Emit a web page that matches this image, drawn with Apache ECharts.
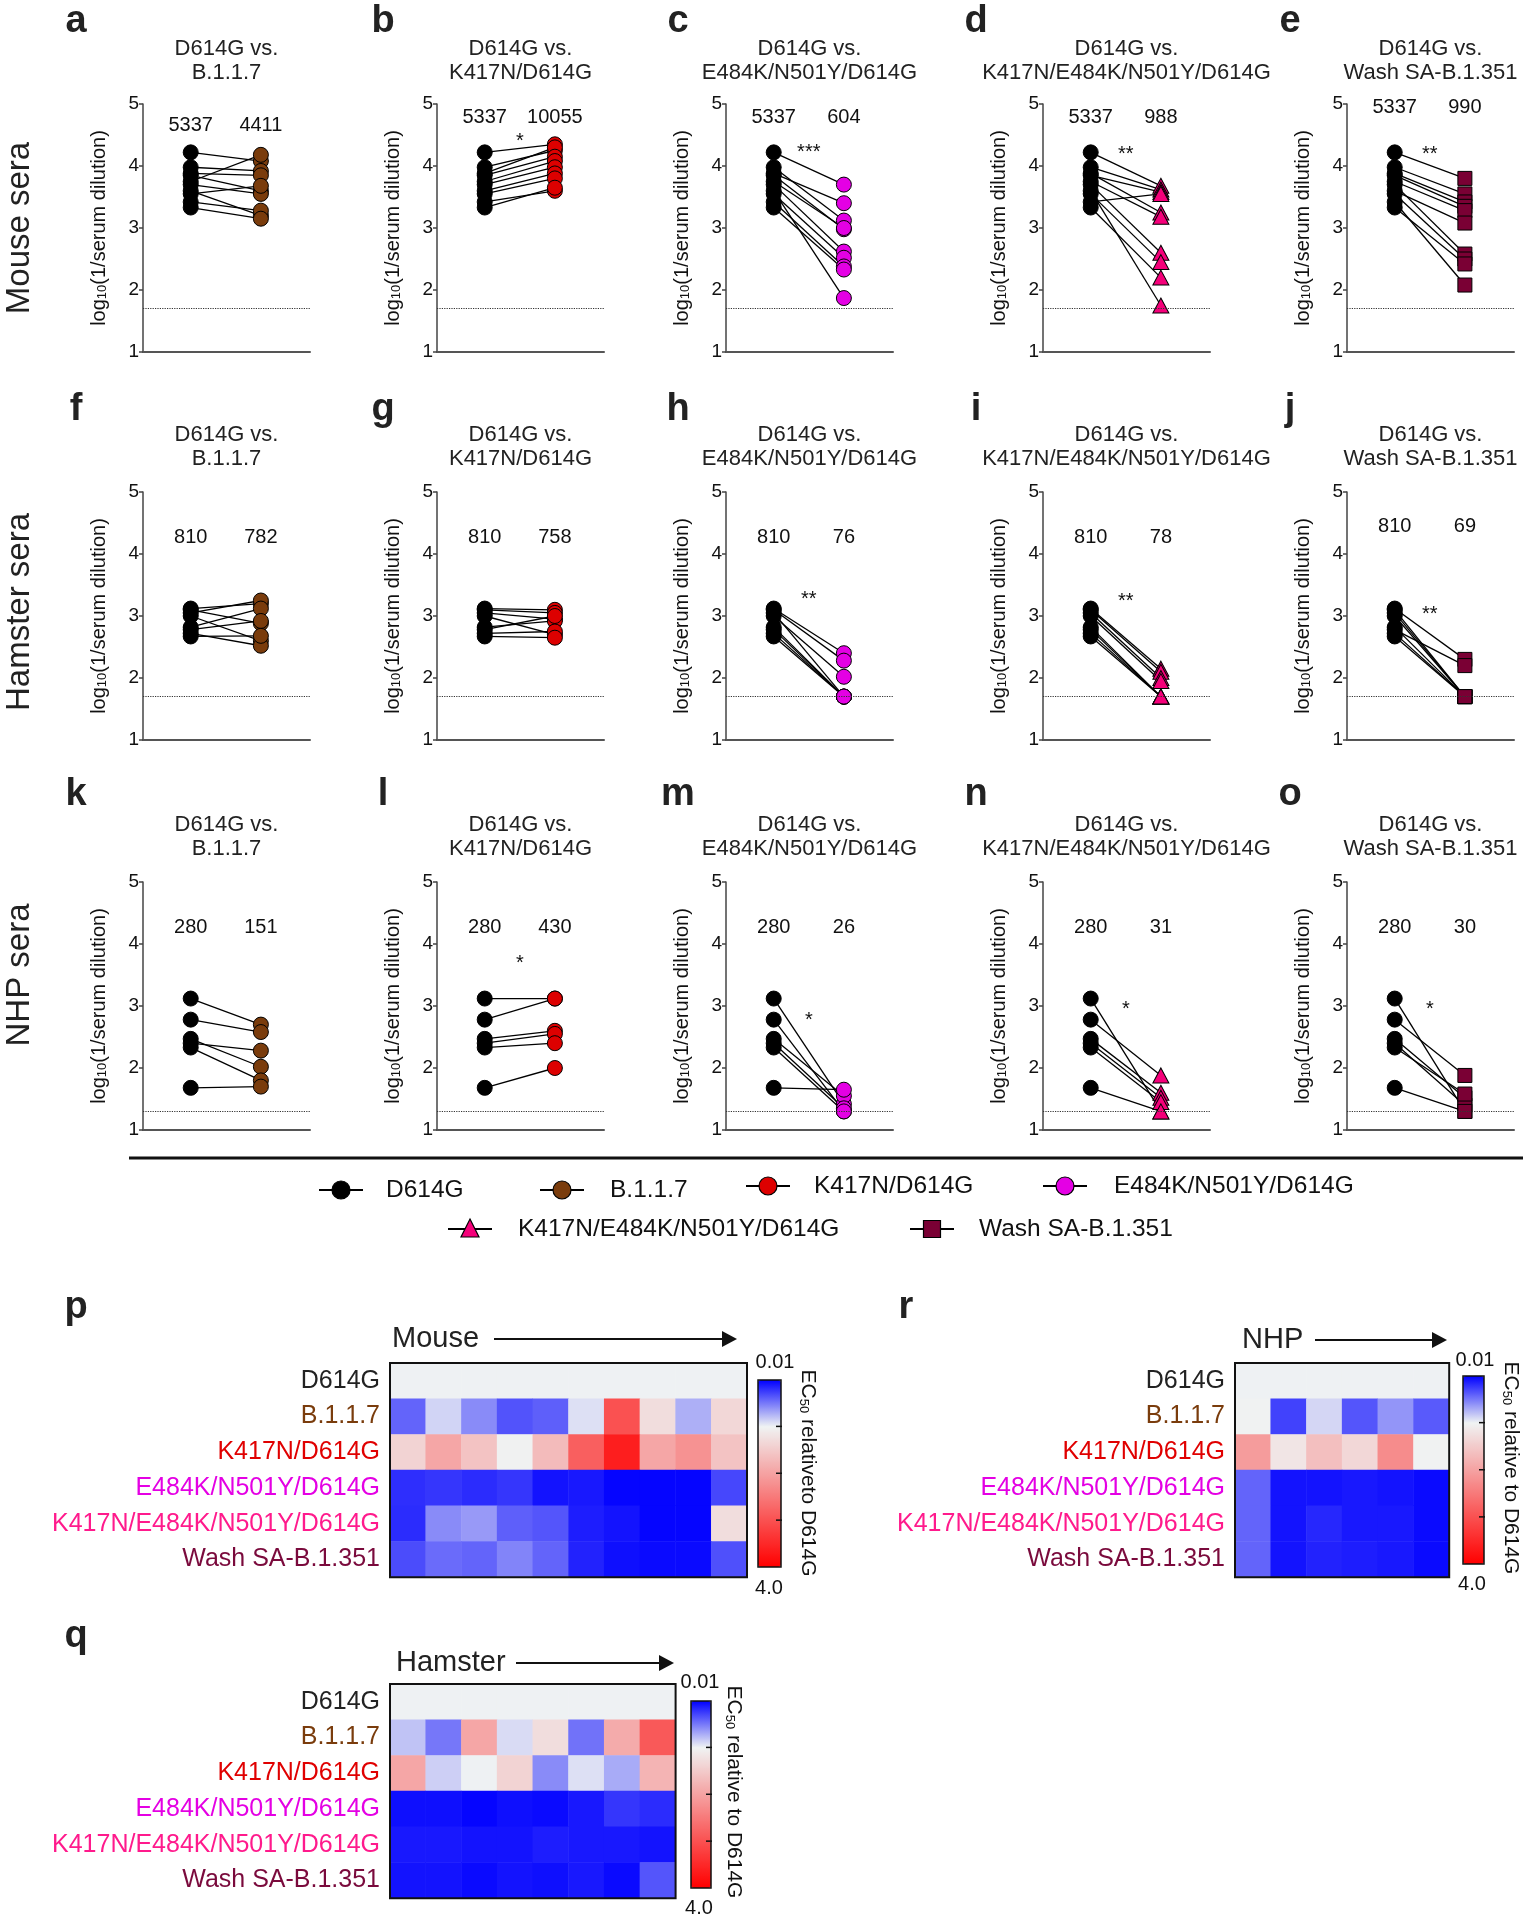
<!DOCTYPE html>
<html>
<head>
<meta charset="utf-8">
<title>Neutralization of SARS-CoV-2 variants</title>
<script src="https://cdn.jsdelivr.net/npm/echarts@6/dist/echarts.min.js"></script>
<style>
html,body{margin:0;padding:0;background:#ffffff;}
#chart{width:1523px;height:1920px;}
</style>
</head>
<body>
<div id="chart"></div>
<script>
// ------------------------------------------------------------------ DATA
const variants = ['D614G', 'B.1.1.7', 'K417N/D614G', 'E484K/N501Y/D614G', 'K417N/E484K/N501Y/D614G', 'Wash SA-B.1.351'];
const panelTitles = ['D614G vs.\nB.1.1.7', 'D614G vs.\nK417N/D614G', 'D614G vs.\nE484K/N501Y/D614G', 'D614G vs.\nK417N/E484K/N501Y/D614G', 'D614G vs.\nWash SA-B.1.351'];
const panelLetters = [['a','b','c','d','e'], ['f','g','h','i','j'], ['k','l','m','n','o']];
const speciesNames = ['Mouse sera', 'Hamster sera', 'NHP sera'];
const yAxisName = 'log10(1/serum dilution)';
const yMin = 1, yMax = 5, yStep = 1;
const lodLevels = [1.7, 1.7, 1.3];

// log10 neutralization titers, paired by animal (same index = same serum)
const mouseD614G   = [4.22, 3.98, 3.88, 3.85, 3.75, 3.70, 3.60, 3.55, 3.42, 3.33];
const mouseB117    = [4.08, 3.92, 3.85, 3.60, 4.18, 3.55, 3.20, 3.68, 3.28, 3.15];
const mouseK417N   = [4.35, 4.25, 4.30, 4.15, 4.08, 3.98, 3.88, 3.80, 3.60, 3.65];
const mouseE484K   = [3.70, 3.12, 3.40, 2.98, 3.00, 2.62, 1.87, 2.52, 2.38, 2.33];
const mouseTriple  = [3.68, 3.62, 3.25, 3.58, 3.18, 2.60, 1.75, 2.45, 3.55, 2.20];
const mouseSA      = [3.80, 3.55, 3.42, 3.35, 3.28, 2.58, 3.08, 2.50, 2.08, 2.42];

const hamsterD614G  = [3.12, 3.10, 3.05, 3.00, 2.82, 2.78, 2.72, 2.67];
const hamsterB117   = [3.20, 2.88, 3.25, 2.60, 3.12, 2.92, 2.52, 2.68];
const hamsterK417N  = [3.10, 3.05, 2.95, 2.70, 2.92, 3.00, 2.75, 2.65];
const hamsterE484K  = [2.40, 2.28, 1.70, 2.02, 1.70, 1.70, 1.70, 1.70];
const hamsterTriple = [2.15, 2.10, 2.00, 1.95, 1.70, 1.70, 1.70, 1.70];
const hamsterSA     = [2.30, 1.70, 1.70, 1.70, 1.70, 2.20, 1.70, 1.70];

const nhpD614G  = [3.12, 2.78, 2.47, 2.40, 2.33, 1.68];
const nhpB117   = [2.70, 2.58, 2.02, 2.28, 1.80, 1.70];
const nhpK417N  = [3.12, 3.12, 2.60, 2.55, 2.40, 2.00];
const nhpE484K  = [1.42, 1.30, 1.55, 1.35, 1.30, 1.65];
const nhpTriple = [1.30, 1.88, 1.60, 1.52, 1.45, 1.30];
const nhpSA     = [1.30, 1.88, 1.52, 1.40, 1.58, 1.30];

// geometric mean titer labels and significance marks
const mouseGMT   = [['5337','4411'], ['5337','10055'], ['5337','604'], ['5337','988'], ['5337','990']];
const hamsterGMT = [['810','782'], ['810','758'], ['810','76'], ['810','78'], ['810','69']];
const nhpGMT     = [['280','151'], ['280','430'], ['280','26'], ['280','31'], ['280','30']];
const mouseSig   = ['', '*', '***', '**', '**'];
const hamsterSig = ['', '', '**', '**', '**'];
const nhpSig     = ['', '*', '*', '*', '*'];

// EC50 relative to D614G (heatmaps), one column per animal
const mouseHeatD614G  = [1, 1, 1, 1, 1, 1, 1, 1, 1, 1];
const mouseHeatB117   = [0.42, 0.88, 0.58, 0.35, 0.40, 0.93, 3.00, 1.28, 0.73, 1.35];
const mouseHeatK417N  = [1.40, 1.96, 1.60, 1.03, 1.70, 2.83, 3.63, 1.96, 2.20, 1.60];
const mouseHeatE484K  = [0.20, 0.23, 0.19, 0.23, 0.09, 0.11, 0.03, 0.03, 0.03, 0.30];
const mouseHeatTriple = [0.19, 0.58, 0.64, 0.40, 0.36, 0.13, 0.09, 0.03, 0.03, 1.28];
const mouseHeatSA     = [0.32, 0.45, 0.42, 0.55, 0.42, 0.15, 0.07, 0.05, 0.05, 0.34];

const hamsterHeatD614G  = [1, 1, 1, 1, 1, 1, 1, 1];
const hamsterHeatB117   = [0.81, 0.50, 1.96, 0.91, 1.28, 0.48, 1.90, 2.90];
const hamsterHeatK417N  = [1.96, 0.86, 1.00, 1.40, 0.58, 0.93, 0.71, 1.78];
const hamsterHeatE484K  = [0.07, 0.07, 0.03, 0.07, 0.05, 0.11, 0.23, 0.19];
const hamsterHeatTriple = [0.11, 0.11, 0.09, 0.09, 0.13, 0.11, 0.11, 0.09];
const hamsterHeatSA     = [0.09, 0.09, 0.05, 0.09, 0.07, 0.11, 0.05, 0.36];

const nhpHeatD614G  = [1, 1, 1, 1, 1, 1];
const nhpHeatB117   = [1.02, 0.28, 0.89, 0.36, 0.62, 0.38];
const nhpHeatK417N  = [2.08, 1.18, 1.65, 1.35, 2.27, 1.02];
const nhpHeatE484K  = [0.42, 0.09, 0.09, 0.11, 0.09, 0.05];
const nhpHeatTriple = [0.42, 0.09, 0.17, 0.11, 0.11, 0.05];
const nhpHeatSA     = [0.42, 0.09, 0.15, 0.13, 0.11, 0.05];

const heatMin = 0.01, heatMax = 4.0;
const heatTicks = [1, 2, 3];
const heatMinLabel = '0.01', heatMaxLabel = '4.0';

// ------------------------------------------------------------------ STYLE
const FF = '"Liberation Sans", Arial, Helvetica, sans-serif';
const variantColors = ['#000000', '#7a3c0c', '#dd0000', '#e400e4', '#f5007a', '#7a0034'];
const heatLabelColors = ['#222222', '#7a3c0c', '#e00000', '#e400e4', '#ff1a8c', '#7a0a3c'];
const variantSymbols = ['circle', 'circle', 'circle', 'circle', 'triangle', 'rect'];
const variantSymbolSizes = [15, 15, 15, 15, [16, 15], 14];
const heatColors = ['#0000ff', '#f0f3f3', '#f5a2a2', '#fa5151', '#ff0000'];

// ------------------------------------------------------------------ LAYOUT
const colLefts = [143, 437, 726, 1043, 1347];
const rowTops = [104, 492, 882];
const GW = 167, GH = 248;
const titleTops = [37, 423, 813];
const letterX = [76, 383, 678, 976, 1290];
const letterY = [22, 410, 795];
const speciesY = [228, 612, 975];
const gmtY = [[4.66, 4.79, 4.79, 4.79, 4.95], [4.26, 4.26, 4.26, 4.26, 4.44], [4.27, 4.27, 4.27, 4.27, 4.27]];
const sigY = [[0, 4.39, 4.21, 4.18, 4.18], [0, 0, 3.26, 3.23, 3.02], [0, 3.69, 2.76, 2.94, 2.94]];

const species = [
  {d: mouseD614G, v: [mouseB117, mouseK417N, mouseE484K, mouseTriple, mouseSA], gmt: mouseGMT, sig: mouseSig, lod: lodLevels[0]},
  {d: hamsterD614G, v: [hamsterB117, hamsterK417N, hamsterE484K, hamsterTriple, hamsterSA], gmt: hamsterGMT, sig: hamsterSig, lod: lodLevels[1]},
  {d: nhpD614G, v: [nhpB117, nhpK417N, nhpE484K, nhpTriple, nhpSA], gmt: nhpGMT, sig: nhpSig, lod: lodLevels[2]}
];

const CELL = 35.7;
const heatPanels = [
  {name: 'Mouse', letter: 'p', rows: [mouseHeatD614G, mouseHeatB117, mouseHeatK417N, mouseHeatE484K, mouseHeatTriple, mouseHeatSA],
   left: 390, top: 1363, titleX: 392, titleY: 1339, arrowX1: 494, arrowX2: 737,
   cb: {x: 758, y: 1380, w: 23, h: 187}, low: [775, 1362], high: [769, 1588], cbLabel: '{a|EC}{s|50}{a| relativeto D614G}', cbLabelPos: [808, 1473], letterPos: [76, 1308]},
  {name: 'Hamster', letter: 'q', rows: [hamsterHeatD614G, hamsterHeatB117, hamsterHeatK417N, hamsterHeatE484K, hamsterHeatTriple, hamsterHeatSA],
   left: 390, top: 1684, titleX: 396, titleY: 1663, arrowX1: 516, arrowX2: 674,
   cb: {x: 691, y: 1701, w: 20, h: 187}, low: [700, 1682], high: [699, 1908], cbLabel: '{a|EC}{s|50}{a| relative to D614G}', cbLabelPos: [734, 1792], letterPos: [76, 1637]},
  {name: 'NHP', letter: 'r', rows: [nhpHeatD614G, nhpHeatB117, nhpHeatK417N, nhpHeatE484K, nhpHeatTriple, nhpHeatSA],
   left: 1235, top: 1363, titleX: 1242, titleY: 1340, arrowX1: 1315, arrowX2: 1447,
   cb: {x: 1463, y: 1376, w: 21, h: 188}, low: [1475, 1360], high: [1472, 1584], cbLabel: '{a|EC}{s|50}{a| relative to D614G}', cbLabelPos: [1511, 1468], letterPos: [906, 1308]}
];

const legendPos = [[341, 1190, 386], [562, 1190, 610], [768, 1186, 814], [1065, 1186, 1114], [470, 1229, 518], [932, 1229, 979]];

// ------------------------------------------------------------------ HELPERS
function gText(x, y, text, size, o) {
  o = o || {};
  const st = {text: text, fontSize: size, fontFamily: FF, fontWeight: o.bold ? 'bold' : 'normal', fill: o.color || '#111',
    align: o.align || 'center', verticalAlign: o.va || 'middle', textAlign: o.align || 'center', textVerticalAlign: o.va || 'middle'};
  if (o.rich) st.rich = o.rich;
  return {type: 'text', x: x, y: y, rotation: o.rot || 0, z: 20, silent: true, style: st};
}
function pairRender(params, api) {
  const p0 = api.coord([api.value(0), api.value(1)]);
  const p1 = api.coord([api.value(2), api.value(3)]);
  return {type: 'line', shape: {x1: p0[0], y1: p0[1], x2: p1[0], y2: p1[1]}, style: {stroke: '#000', lineWidth: 1.3}};
}
function markerShape(sym, x, y, color) {
  const st = {fill: color, stroke: '#000', lineWidth: 1.2};
  if (sym === 'triangle') return {type: 'polygon', z: 21, silent: true, shape: {points: [[x, y - 10], [x + 9, y + 8], [x - 9, y + 8]]}, style: st};
  if (sym === 'rect') return {type: 'rect', z: 21, silent: true, shape: {x: x - 8.5, y: y - 8.5, width: 17, height: 17}, style: st};
  return {type: 'circle', z: 21, silent: true, shape: {cx: x, cy: y, r: 9}, style: st};
}

// ------------------------------------------------------------------ OPTION
const option = {
  animation: false,
  backgroundColor: '#ffffff',
  textStyle: {fontFamily: FF},
  title: [], grid: [], xAxis: [], yAxis: [], series: [], visualMap: [], graphic: []
};
const G = option.graphic;

let k = 0;
species.forEach(function (sp, r) {
  G.push(gText(20, speciesY[r], speciesNames[r], 33, {rot: Math.PI / 2, color: '#222'}));
  sp.v.forEach(function (vals, c) {
    const vi = c + 1;
    option.grid.push({left: colLefts[c], top: rowTops[r], width: GW, height: GH, outerBoundsMode: 'none'});
    option.xAxis.push({gridIndex: k, type: 'value', min: -0.68, max: 1.7,
      axisLine: {show: true, onZero: false, lineStyle: {color: '#555', width: 2}},
      axisTick: {show: false}, axisLabel: {show: false}, splitLine: {show: false}});
    option.yAxis.push({gridIndex: k, type: 'value', min: yMin, max: yMax, interval: yStep,
      axisLine: {show: true, onZero: false, lineStyle: {color: '#444', width: 1.5}},
      axisTick: {show: true, length: 4, lineStyle: {color: '#444', width: 1.5}},
      axisLabel: {fontSize: 19, color: '#111', margin: 4, fontFamily: FF},
      splitLine: {show: false},
      name: '{a|' + yAxisName.slice(0, 3) + '}{s|' + yAxisName.slice(3, 5) + '}{a|' + yAxisName.slice(5) + '}',
      nameLocation: 'middle', nameGap: 34,
      nameTextStyle: {fontSize: 20, color: '#111', fontFamily: FF,
        rich: {a: {fontSize: 20, color: '#111', fontFamily: FF}, s: {fontSize: 13, color: '#111', fontFamily: FF, verticalAlign: 'bottom', lineHeight: 8}}}});
    option.title.push({text: panelTitles[c], left: colLefts[c] + GW / 2, top: titleTops[r], textAlign: 'center', padding: 0,
      textStyle: {fontSize: 22, fontWeight: 'normal', color: '#222', lineHeight: 24, fontFamily: FF}});
    option.series.push({type: 'custom', name: 'pairs', xAxisIndex: k, yAxisIndex: k, z: 2, silent: true,
      encode: {x: [0, 2], y: [1, 3]}, renderItem: pairRender,
      data: sp.d.map(function (a, i) { return [0, a, 1, vals[i]]; })});
    option.series.push({type: 'scatter', name: variants[0], xAxisIndex: k, yAxisIndex: k, z: 3, silent: true,
      symbol: variantSymbols[0], symbolSize: variantSymbolSizes[0],
      itemStyle: {color: variantColors[0], borderColor: '#000', borderWidth: 1, opacity: 1},
      data: sp.d.map(function (a) { return [0, a]; }),
      markLine: {silent: true, symbol: ['none', 'none'], label: {show: false},
        lineStyle: {type: 'dotted', color: '#333', width: 1.2}, data: [{yAxis: sp.lod}]}});
    option.series.push({type: 'scatter', name: variants[vi], xAxisIndex: k, yAxisIndex: k, z: 4, silent: true,
      symbol: variantSymbols[vi], symbolSize: variantSymbolSizes[vi],
      itemStyle: {color: variantColors[vi], borderColor: '#000', borderWidth: 1, opacity: 1},
      data: vals.map(function (b) { return [1, b]; })});
    const lab = [[0, gmtY[r][c], sp.gmt[c][0]], [1, gmtY[r][c], sp.gmt[c][1]]];
    if (sp.sig[c]) lab.push([0.5, sigY[r][c], sp.sig[c]]);
    option.series.push({type: 'scatter', name: 'labels', xAxisIndex: k, yAxisIndex: k, z: 5, silent: true,
      symbolSize: 1, itemStyle: {color: 'rgba(0,0,0,0)'},
      label: {show: true, position: 'inside', fontSize: 20, color: '#111', fontFamily: FF,
        textBorderWidth: 0, textBorderColor: 'transparent', opacity: 1,
        formatter: function (p) { return p.data[2]; }},
      data: lab});
    G.push(gText(letterX[c], letterY[r], panelLetters[r][c], 38, {bold: true, color: '#222'}));
    k++;
  });
});

// separator and legend
G.push({type: 'line', z: 20, silent: true, shape: {x1: 129, y1: 1158, x2: 1523, y2: 1158}, style: {stroke: '#111', lineWidth: 3}});
legendPos.forEach(function (p, i) {
  G.push({type: 'line', z: 20, silent: true, shape: {x1: p[0] - 22, y1: p[1], x2: p[0] + 22, y2: p[1]}, style: {stroke: '#000', lineWidth: 2}});
  G.push(markerShape(variantSymbols[i], p[0], p[1], variantColors[i]));
  G.push(gText(p[2], p[1], variants[i], 24.5, {align: 'left', color: '#111'}));
});

// heatmaps
heatPanels.forEach(function (hp) {
  const nCols = hp.rows[0].length;
  const gi = option.grid.length;
  option.grid.push({left: hp.left, top: hp.top, width: nCols * CELL, height: variants.length * CELL, outerBoundsMode: 'none'});
  option.xAxis.push({gridIndex: gi, type: 'category', show: false, data: hp.rows[0].map(function (v, i) { return String(i + 1); })});
  option.yAxis.push({gridIndex: gi, type: 'category', inverse: true, data: variants,
    axisLine: {show: false}, axisTick: {show: false}, splitLine: {show: false},
    axisLabel: {fontSize: 25, margin: 10, fontFamily: FF, color: function (v) { return heatLabelColors[variants.indexOf(v)]; }}});
  const data = [];
  hp.rows.forEach(function (row, ri) { row.forEach(function (v, ci) { data.push([ci, ri, v]); }); });
  const si = option.series.length;
  option.series.push({type: 'heatmap', name: hp.name, xAxisIndex: gi, yAxisIndex: gi, silent: true,
    itemStyle: {borderWidth: 0}, emphasis: {disabled: true}, data: data});
  option.visualMap.push({type: 'continuous', seriesIndex: si, min: heatMin, max: heatMax, inverse: true, orient: 'vertical',
    left: hp.cb.x, top: hp.cb.y, itemWidth: hp.cb.w, itemHeight: hp.cb.h, padding: 0, calculable: false, hoverLink: false,
    inRange: {color: heatColors}});
  // frame around heatmap
  G.push({type: 'rect', z: 30, silent: true, shape: {x: hp.left, y: hp.top, width: nCols * CELL, height: variants.length * CELL},
    style: {fill: 'none', stroke: '#111', lineWidth: 2}});
  // header with arrow
  G.push(gText(hp.titleX, hp.titleY, hp.name, 29, {align: 'left', color: '#222'}));
  G.push({type: 'line', z: 20, silent: true, shape: {x1: hp.arrowX1, y1: hp.titleY, x2: hp.arrowX2 - 12, y2: hp.titleY}, style: {stroke: '#111', lineWidth: 2}});
  G.push({type: 'polygon', z: 20, silent: true, shape: {points: [[hp.arrowX2 - 15, hp.titleY - 8], [hp.arrowX2, hp.titleY], [hp.arrowX2 - 15, hp.titleY + 8]]}, style: {fill: '#111'}});
  // colour bar frame, ticks and labels
  G.push({type: 'rect', z: 30, silent: true, shape: {x: hp.cb.x, y: hp.cb.y, width: hp.cb.w, height: hp.cb.h}, style: {fill: 'none', stroke: '#111', lineWidth: 1.5}});
  heatTicks.forEach(function (t) {
    const ty = hp.cb.y + hp.cb.h * (t - heatMin) / (heatMax - heatMin);
    G.push({type: 'line', z: 31, silent: true, shape: {x1: hp.cb.x + hp.cb.w - 5, y1: ty, x2: hp.cb.x + hp.cb.w + 1, y2: ty}, style: {stroke: '#111', lineWidth: 1.5}});
  });
  G.push(gText(hp.low[0], hp.low[1], heatMinLabel, 20, {color: '#111'}));
  G.push(gText(hp.high[0], hp.high[1], heatMaxLabel, 20, {color: '#111'}));
  G.push(gText(hp.cbLabelPos[0], hp.cbLabelPos[1], hp.cbLabel, 21, {rot: -Math.PI / 2, color: '#111',
    rich: {a: {fontSize: 21, fontFamily: FF, fill: '#111', color: '#111'}, s: {fontSize: 13, fontFamily: FF, fill: '#111', color: '#111', verticalAlign: 'bottom', lineHeight: 8}}}));
  G.push(gText(hp.letterPos[0], hp.letterPos[1], hp.letter, 38, {bold: true, color: '#222'}));
});

const chart = echarts.init(document.getElementById('chart'), null, {renderer: 'canvas', width: 1523, height: 1920});
chart.setOption(option);
</script>
</body>
</html>
